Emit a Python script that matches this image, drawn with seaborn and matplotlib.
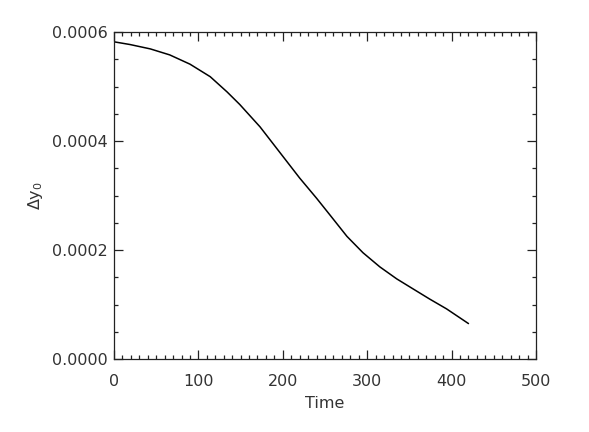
import numpy as np
import pandas as pd
import seaborn as sns
import matplotlib
matplotlib.use('Agg')
import matplotlib.pyplot as plt
from matplotlib.ticker import MultipleLocator, FormatStrFormatter

# values
time = [0, 19, 43, 66, 90, 114, 134, 149, 173, 197, 220,
        240, 256, 276, 295, 315, 335, 355, 374, 394, 420]
dy0 = [5.82e-4, 5.77e-4, 5.69e-4, 5.58e-4, 5.41e-4, 5.18e-4, 4.90e-4,
       4.67e-4, 4.26e-4, 3.78e-4, 3.32e-4, 2.95e-4, 2.64e-4, 2.25e-4,
       1.95e-4, 1.69e-4, 1.47e-4, 1.28e-4, 1.10e-4, 0.92e-4, 0.65e-4]

def main():
    sns.set_style('ticks')
    plt.rcParams['font.family'] = ['DejaVu Sans']
    df = pd.DataFrame({'Time': time, 'dy0': dy0})

    fig = plt.figure(figsize=(5.89, 4.32), dpi=100)
    ax = fig.add_axes([114/589, 1 - 359/432, 422/589, 327/432])

    sns.lineplot(data=df, x='Time', y='dy0', ax=ax, color='black', linewidth=1.1)

    ax.set_xlim(0, 500)
    ax.set_ylim(0, 0.0006)
    ax.xaxis.set_major_locator(MultipleLocator(100))
    ax.xaxis.set_minor_locator(MultipleLocator(10))
    ax.yaxis.set_major_locator(MultipleLocator(0.0002))
    ax.yaxis.set_minor_locator(MultipleLocator(0.00005))
    ax.yaxis.set_major_formatter(FormatStrFormatter('%.4f'))

    txt = '#333333'
    for s in ax.spines.values():
        s.set_visible(True)
        s.set_color('#222222')
        s.set_linewidth(0.9)
    ax.tick_params(which='both', direction='in', top=True, right=True,
                   color='#222222', width=0.9, labelsize=11.5, labelcolor=txt)
    ax.tick_params(which='major', length=6.5)
    ax.tick_params(which='minor', length=3)
    ax.tick_params(axis='x', which='major', pad=11)
    ax.tick_params(axis='y', which='major', pad=4.5)

    ax.set_xlabel('Time', fontsize=11.5, color=txt, labelpad=5)
    ax.set_ylabel(r'$\Delta \mathregular{y}_0$', fontsize=11.5, color=txt, labelpad=5)

    fig.savefig('out.png', dpi=100)

if __name__ == '__main__':
    main()
